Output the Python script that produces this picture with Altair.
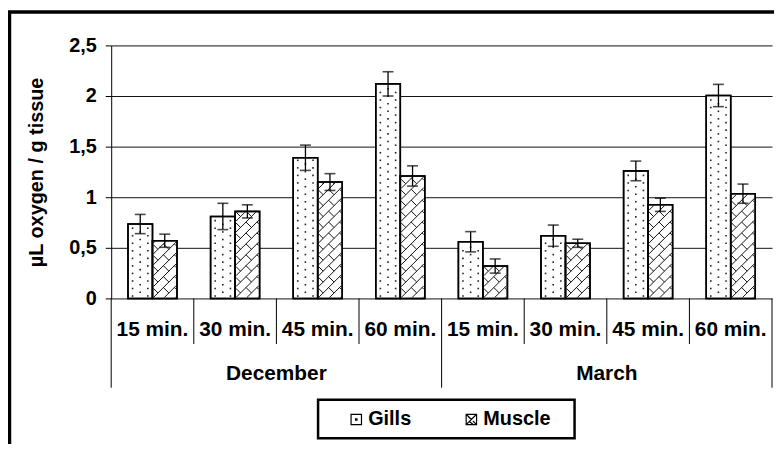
import altair as alt
import numpy as np
import pandas as pd

# ---------------- data ----------------
months = ["December", "March"]
times = ["15 min.", "30 min.", "45 min.", "60 min."]
series = ["Gills", "Muscle"]
gills = [0.735, 0.81, 1.39, 2.12, 0.56, 0.62, 1.26, 2.005]
gills_err = [0.095, 0.13, 0.125, 0.12, 0.10, 0.105, 0.097, 0.11]
muscle = [0.57, 0.86, 1.15, 1.21, 0.32, 0.545, 0.925, 1.035]
muscle_err = [0.065, 0.065, 0.083, 0.10, 0.07, 0.04, 0.065, 0.095]
y_ticks = [0, 0.5, 1, 1.5, 2, 2.5]
y_title = "µL oxygen / g tissue"

# ---------------- layout / style ----------------
FONT = "Liberation Sans"
W, H = 666, 255
PAD = {"left": 104, "top": 36, "right": 2, "bottom": 145}
YMAX = y_ticks[-1]
NT = len(times)
NCAT = len(months) * NT
SX = W / NCAT
SY = H / YMAX
BAR_PX = 24.7
BW = BAR_PX / SX

rows = []
for m_i, m in enumerate(months):
    for t_i, t in enumerate(times):
        i = m_i * NT + t_i
        for s_i, (s, vals, errs) in enumerate(zip(series, [gills, muscle], [gills_err, muscle_err])):
            x0 = i + 0.5 - BW + s_i * BW
            rows.append(dict(series=s, month=m, time=t, x0=x0, x1=x0 + BW, xc=x0 + BW / 2,
                             value=vals[i], lo=vals[i] - errs[i], hi=vals[i] + errs[i], zero=0.0))
bars = pd.DataFrame(rows)


def clip_seg(p0, p1, xmin, xmax, ymin, ymax):
    x0, y0 = p0
    x1, y1 = p1
    dx, dy = x1 - x0, y1 - y0
    t0, t1 = 0.0, 1.0
    for p, q in ((-dx, x0 - xmin), (dx, xmax - x0), (-dy, y0 - ymin), (dy, ymax - y0)):
        if p == 0:
            if q < 0:
                return None
        else:
            r = q / p
            if p < 0:
                if r > t1:
                    return None
                t0 = max(t0, r)
            else:
                if r < t0:
                    return None
                t1 = min(t1, r)
    if t1 - t0 < 1e-6:
        return None
    return (x0 + t0 * dx, y0 + t0 * dy, x0 + t1 * dx, y0 + t1 * dy)


# diagonal-brick hatch for Muscle bars (derived from bar values)
SP = 11.0
segs = []
for r in bars[bars.series == "Muscle"].itertuples():
    h = r.value * SY
    box = (0.9, BAR_PX - 0.9, 0.9, h - 0.9)
    for k in range(int(-BAR_PX // SP) - 2, int(h // SP) + 3):
        c = k * SP
        cand = [((-5.0, -5.0 + c), (BAR_PX + 5, BAR_PX + 5 + c))]
        for j in range(-3, 6):
            u = j * SP
            cand.append(((u, u + c), (u + SP / 2, u + c - SP / 2)))
        for a, b in cand:
            s = clip_seg(a, b, *box)
            if s:
                segs.append(dict(x=r.x0 + s[0] / SX, y=s[1] / SY, x2=r.x0 + s[2] / SX, y2=s[3] / SY))
hatch = pd.DataFrame(segs)

# dotted fill for Gills bars (derived from bar values)
DY = 3.8
dots = []
for r in bars[bars.series == "Gills"].itertuples():
    h = r.value * SY
    j = 0
    while True:
        w = 2.4 + j * DY
        if w > h - 1.8:
            break
        cols = [4.6, 20.0] if j % 2 == 0 else [12.3]
        for u in cols:
            dots.append(dict(x=r.x0 + u / SX, y=w / SY))
        j += 1
dots = pd.DataFrame(dots)

cats = pd.DataFrame([dict(time=t, xc=m_i * NT + t_i + 0.5)
                     for m_i, m in enumerate(months) for t_i, t in enumerate(times)])
mons = pd.DataFrame([dict(month=m, xc=m_i * NT + NT / 2) for m_i, m in enumerate(months)])
divs = pd.DataFrame({"x": list(range(NCAT + 1))})
short_divs = divs[divs.x % NT != 0]
long_divs = divs[divs.x % NT == 0]
one = pd.DataFrame({"k": [0]})

xscale = alt.Scale(domain=[0, NCAT], nice=False, zero=False)
yscale = alt.Scale(domain=[0, YMAX], nice=False)

yaxis = alt.Axis(
    values=y_ticks, labelExpr="replace(toString(datum.value), '.', ',')",
    grid=True, gridColor="#111", gridWidth=1,
    domain=True, domainColor="#000", domainWidth=1,
    ticks=True, tickColor="#000", tickSize=6,
    labelFont=FONT, labelFontSize=20, labelFontWeight="bold", labelColor="#000", labelPadding=9,
    title=y_title, titleFont=FONT, titleFontSize=20, titleFontWeight="bold", titleColor="#000",
    titlePadding=22,
)


def X(f):
    return alt.X(f, type="quantitative", scale=xscale, axis=None)


def Y(f):
    return alt.Y(f, type="quantitative", scale=yscale, axis=yaxis)


frame = alt.Chart(one).mark_rect(fillOpacity=0, stroke="black", strokeWidth=3.5).encode(
    x=alt.value(-102.5), x2=alt.value(720), y=alt.value(-33.7), y2=alt.value(460))

legend_box = alt.Chart(one).mark_rect(fillOpacity=0, stroke="black", strokeWidth=2.5).encode(
    x=alt.value(208.5), x2=alt.value(467), y=alt.value(357.2), y2=alt.value(396))

bar_fill = alt.Chart(bars).mark_rect(fill="white", stroke="black", strokeWidth=1.5).encode(
    x=X("x0"), x2="x1", y=Y("value"), y2="zero:Q")

dot_layer = alt.Chart(dots).mark_square(size=2.6, color="#222", opacity=1).encode(x=X("x"), y=Y("y"))

hatch_layer = alt.Chart(hatch).mark_rule(color="#111", strokeWidth=1).encode(
    x=X("x"), y=Y("y"), x2="x2", y2="y2")

bar_outline = alt.Chart(bars).mark_rect(fillOpacity=0, stroke="black", strokeWidth=1.6).encode(
    x=X("x0"), x2="x1", y=Y("value"), y2="zero:Q")

stems = alt.Chart(bars).mark_rule(color="black", strokeWidth=1.3).encode(x=X("xc"), y=Y("lo"), y2="hi")
cap_hi = alt.Chart(bars).mark_tick(orient="horizontal", size=11, thickness=1.6, color="black").encode(
    x=X("xc"), y=Y("hi"))
cap_lo = alt.Chart(bars).mark_tick(orient="horizontal", size=11, thickness=1.6, color="black").encode(
    x=X("xc"), y=Y("lo"))

legend_pts = alt.Chart(bars).mark_point(filled=True, fill="white", stroke="black", strokeWidth=1.2,
                                        opacity=0).encode(
    x=X("xc"), y=Y("value"),
    shape=alt.Shape("series:N", scale=alt.Scale(
        domain=series,
        range=["M-1,-1L1,-1L1,1L-1,1Z M-0.14,-0.14L0.14,-0.14L0.14,0.14L-0.14,0.14Z",
               "M-1,-1L1,-1L1,1L-1,1Z M-1,1L1,-1 M-1,-1L0,0 M0.3,0.3L1,1 M-0.4,0.4L0.4,1"]),
        legend=alt.Legend(orient="none", legendX=237, legendY=367, direction="horizontal",
                          title=None, padding=0, symbolSize=110, symbolOpacity=1,
                          symbolStrokeWidth=1.2, labelFont=FONT, labelFontSize=20,
                          labelFontWeight="bold", labelColor="#000", labelOffset=2,
                          columnPadding=50)))

short_rules = alt.Chart(short_divs).mark_rule(color="black", strokeWidth=1).encode(
    x=X("x"), y=alt.value(H), y2=alt.value(H + 46))
long_rules = alt.Chart(long_divs).mark_rule(color="black", strokeWidth=1).encode(
    x=X("x"), y=alt.value(H), y2=alt.value(H + 90))

cat_text = alt.Chart(cats).mark_text(font=FONT, fontSize=21, fontWeight="bold", color="black",
                                     baseline="alphabetic").encode(
    x=X("xc"), y=alt.value(H + 38), text="time:N")
mon_text = alt.Chart(mons).mark_text(font=FONT, fontSize=21, fontWeight="bold", color="black",
                                     baseline="alphabetic").encode(
    x=X("xc"), y=alt.value(H + 82.5), text="month:N")

chart = alt.layer(
    frame, legend_box, bar_fill, dot_layer, hatch_layer, bar_outline, stems, cap_hi, cap_lo,
    legend_pts, short_rules, long_rules, cat_text, mon_text,
).properties(
    width=W, height=H, autosize=alt.AutoSizeParams(type="none"), padding=PAD, background="white",
).configure(font=FONT).configure_view(stroke=None)

chart.save("out.html", embed_options={"renderer": "svg", "actions": False})
